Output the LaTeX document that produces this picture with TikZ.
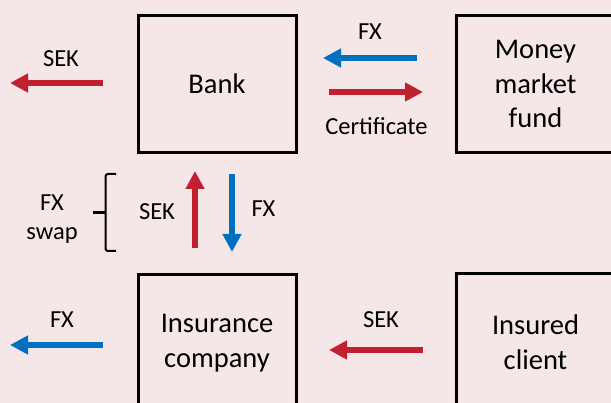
\documentclass[tikz,border=0pt]{standalone}
\usepackage{fontspec}
\setmainfont{Carlito}
\usetikzlibrary{arrows.meta}
\definecolor{bgpink}{HTML}{F5E6E8}
\definecolor{flowred}{HTML}{C0202F}
\definecolor{flowblue}{HTML}{0070C0}
\tikzset{
  party/.style={draw=black, line width=3pt, minimum width=158pt, minimum height=137pt,
    inner sep=0pt, align=center, font=\fontsize{28.5}{34.5}\selectfont},
  flowlabel/.style={anchor=base, inner sep=0pt, font=\fontsize{24.5}{29.5}\selectfont},
  flow/.style={line width=6pt, -{Triangle[width=18pt,length=18pt]}},
  redflow/.style={flow, draw=flowred, color=flowred},
  blueflow/.style={flow, draw=flowblue, color=flowblue},
  bracket/.style={draw=black, line width=2pt, rounded corners=2.5pt},
}
\begin{document}
\begin{tikzpicture}[x=1pt,y=-1pt]
\fill[bgpink] (0,0) rectangle (611,403);
\useasboundingbox (0,0) rectangle (611,403);

\node[party] (bank) at (217,84) {Bank};
\node[party] (mmf) at (535.5,84) {Money\\market\\fund};
\node[party] (ins) at (217,343) {Insurance\\company};
\node[party] (client) at (535.5,342) {Insured\\client};

% top-left SEK
\coordinate (a1s) at (103,83);
\coordinate (a1e) at (10,83);
\draw[redflow] (a1s) -- (a1e);
\node[flowlabel] (l1) at (61,67) {SEK};

% FX from money market fund to bank
\coordinate (a2s) at (417,58);
\coordinate (a2e) at (323,58);
\draw[blueflow] (a2s) -- (a2e);
\node[flowlabel] (l2) at (370,40) {FX};

% Certificate from bank to fund
\coordinate (a3s) at (329,92);
\coordinate (a3e) at (423,92);
\draw[redflow] (a3s) -- (a3e);
\node[flowlabel] (l3) at (376.5,135) {Certificate};

% swap arrows
\coordinate (a4s) at (195,248);
\coordinate (a4e) at (195,171);
\draw[redflow] (a4s) -- (a4e);
\node[flowlabel] (l4) at (157,220) {SEK};
\coordinate (a5s) at (232,174);
\coordinate (a5e) at (232,252);
\draw[blueflow] (a5s) -- (a5e);
\node[flowlabel] (l5) at (263.5,217) {FX};

% FX swap bracket
\coordinate (bTop) at (116,174);
\coordinate (bTopC) at (105.5,174);
\coordinate (bBotC) at (105.5,251);
\coordinate (bBot) at (116,251);
\coordinate (bMid) at (105.5,213);
\coordinate (bTip) at (93,213);
\draw[bracket] (bTop) -- (bTopC) -- (bBotC) -- (bBot);
\draw[line width=3pt] (bTip) -- (bMid);
\node[flowlabel] (l6a) at (52,211) {FX};
\node[flowlabel] (l6b) at (52,240) {swap};

% bottom-left FX
\coordinate (a6s) at (103,345);
\coordinate (a6e) at (10,345);
\draw[blueflow] (a6s) -- (a6e);
\node[flowlabel] (l7) at (62,328) {FX};

% SEK from client to insurance
\coordinate (a7s) at (423,350);
\coordinate (a7e) at (329,350);
\draw[redflow] (a7s) -- (a7e);
\node[flowlabel] (l8) at (381,328) {SEK};
\end{tikzpicture}
\end{document}
